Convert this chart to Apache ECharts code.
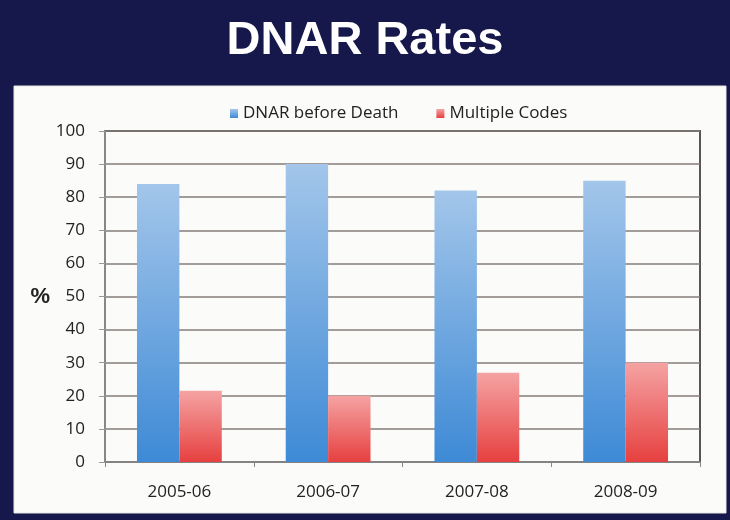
<!DOCTYPE html>
<html>
<head>
<meta charset="utf-8">
<script src="https://cdn.jsdelivr.net/npm/echarts@6/dist/echarts.min.js"></script>
<style>
html, body { margin: 0; padding: 0; background: #16174a; }
#main { width: 730px; height: 520px; }
</style>
</head>
<body>
<div id="main"></div>
<script>
var years = ['2005-06', '2006-07', '2007-08', '2008-09'];
var dnarBeforeDeath = [84, 90, 82, 85];
var multipleCodes = [21.5, 20, 27, 30];
var yTicks = [0, 100, 10];

var chart = echarts.init(document.getElementById('main'));

function grad(top, bottom) {
	return new echarts.graphic.LinearGradient(0, 0, 0, 1, [
		{offset: 0, color: top},
		{offset: 1, color: bottom}
	]);
}

var option = {
	backgroundColor: '#16174a',
	animation: false,
	title: {
		text: 'DNAR Rates',
		left: 'center',
		top: 13,
		textStyle: {color: '#ffffff', fontFamily: 'Liberation Sans', fontWeight: 'bold', fontSize: 47}
	},
	graphic: [{
		type: 'rect',
		z: -10,
		shape: {x: 14, y: 86, width: 712, height: 427},
		style: {fill: '#fbfbf9', stroke: '#e6e6e6', lineWidth: 1}
	}],
	legend: {
		top: 100,
		left: 225,
		itemWidth: 8,
		itemHeight: 9,
		itemGap: 38,
		icon: 'rect',
		textStyle: {color: '#222', fontFamily: 'Open Sans', fontSize: 17},
		data: ['DNAR before Death', 'Multiple Codes']
	},
	grid: {
		left: 105, right: 30, top: 131, bottom: 58,
		show: true,
		borderColor: '#555',
		borderWidth: 2,
		backgroundColor: 'transparent'
	},
	xAxis: {
		type: 'category',
		data: years,
		axisLine: {lineStyle: {color: '#888', width: 1.5}},
		axisTick: {show: true, length: 5, lineStyle: {color: '#888'}},
		axisLabel: {color: '#222', fontFamily: 'Open Sans', fontSize: 17, margin: 22}
	},
	yAxis: {
		type: 'value',
		min: yTicks[0],
		max: yTicks[1],
		interval: yTicks[2],
		name: '%',
		nameLocation: 'middle',
		nameRotate: 0,
		nameGap: 55,
		nameTextStyle: {color: '#222', fontFamily: 'Liberation Sans', fontWeight: 'bold', fontSize: 22},
		axisLine: {show: true, lineStyle: {color: '#999', width: 1.5}},
		axisTick: {show: true, length: 6, lineStyle: {color: '#999'}},
		axisLabel: {color: '#222', fontFamily: 'Open Sans', fontSize: 17, margin: 20},
		splitLine: {lineStyle: {color: '#867e7a', width: 1.5}}
	},
	series: [{
		name: 'DNAR before Death',
		type: 'bar',
		data: dnarBeforeDeath,
		barGap: '0%',
		barCategoryGap: '43%',
		itemStyle: {color: grad('#a3c6ea', '#3e8ad6')}
	}, {
		name: 'Multiple Codes',
		type: 'bar',
		data: multipleCodes,
		itemStyle: {color: grad('#f5a3a3', '#e6403f')}
	}]
};

chart.setOption(option);
</script>
</body>
</html>
